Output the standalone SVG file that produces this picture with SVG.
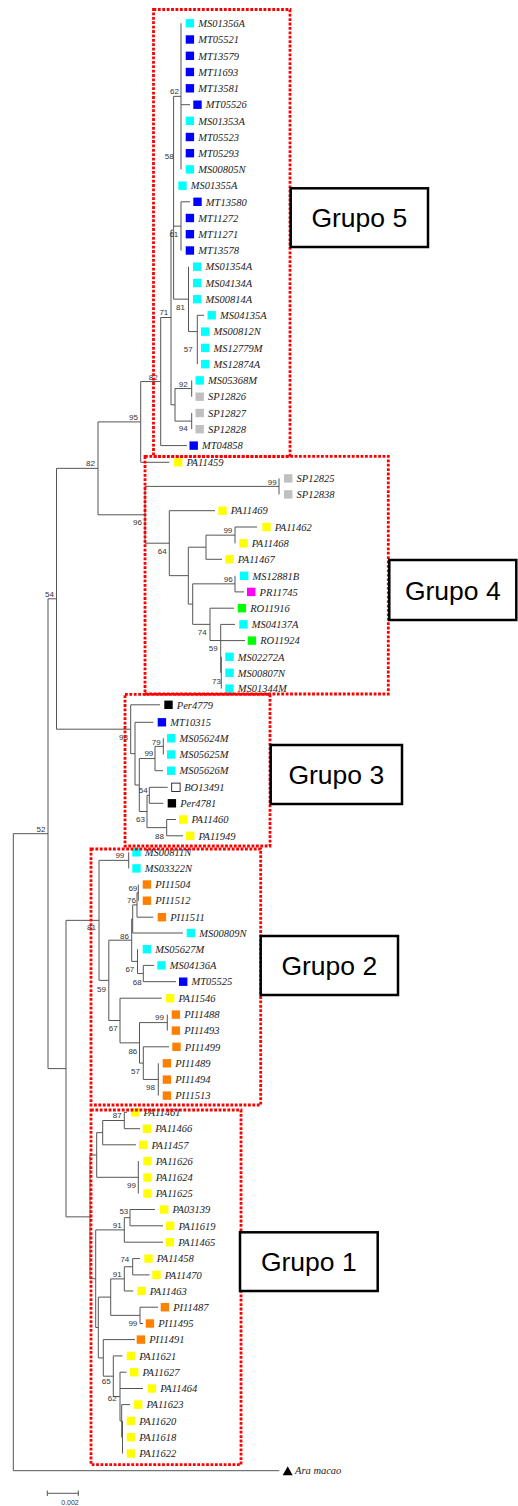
<svg xmlns="http://www.w3.org/2000/svg" width="518" height="1506" viewBox="0 0 518 1506">
<style>
.br{fill:none;stroke:#555;stroke-width:1}
.bs{font-family:"Liberation Sans",Arial,sans-serif;font-size:8px;fill:#333;text-anchor:end}
.lb{font-family:"Liberation Serif","Times New Roman",serif;font-style:italic;font-size:10.5px;fill:#222}
.rb{fill:none;stroke:#ff0000;stroke-width:2.8;stroke-dasharray:2.8 1.6}
.gb{fill:#fff;stroke:#000;stroke-width:2.5}
.gt{font-family:"Liberation Sans",Arial,sans-serif;font-size:26.5px;fill:#000;text-anchor:middle}
.cy{fill:#00ffff}.bl{fill:#0000ff}.ye{fill:#ffff00}.gr{fill:#c0c0c0}.mg{fill:#ff00ff}.gn{fill:#00ff00}.or{fill:#ff8000}.bk{fill:#000}.wh{fill:#fff;stroke:#000;stroke-width:0.8}
</style>
<rect width="518" height="1506" fill="#fff"/>
<g id="connectors" class="br">
<path d="M279.3 1470.7H13.3V833.7H48 M48 598.8V1068.6 M48 598.8H56.5 M48 1068.6H66 M56.5 468.35V729.2 M56.5 468.35H98 M56.5 729.2H130.7 M98 421.9V514.8 M98 421.9H140.7 M98 514.8H145 M140.7 381.55V462.3 M140.7 381.55H160.7 M140.7 462.3H169.3 M160.7 317.5V445.6 M160.7 317.5H171 M160.7 445.6H187 M171 230.2V404.8 M171 230.2H173.6 M171 404.8H175 M173.6 96.35V299.15 M173.6 299.15H188.5 M173.6 96.35H181 M173.6 226.15H181 M181 23.3V169.4 M181 104.7H190 M181 201.8V250.5 M181 201.8H190 M188.5 266.7V331.6 M188.5 331.6H197.3 M197.3 315.3V364.2 M197.3 315.3H204 M175 388.55V421.1 M175 388.55H191.7 M175 421.1H191.7 M191.7 380.4V396.7 M191.7 413V429.2"/>
<path d="M145 486.4V543.2 M145 486.4H279 M145 543.2H169.3 M279 478.4V494.4 M169.3 510.7V575.65 M169.3 510.7H215 M169.3 575.65H188.3 M188.3 547.2V604.1 M188.3 547.2H206 M188.3 604.1H192.7 M206 535.15V559.3 M206 535.15H235 M206 559.3H222 M235 527V543.3 M235 527H257 M192.7 583.85V624.35 M192.7 583.85H235 M192.7 624.35H210 M235 575.8V591.9 M235 591.9H244 M210 608.2V640.5 M210 608.2H234 M210 640.5H220.7 M220.7 624.4V672.7 M220.7 624.4H235 M220.7 640.6H245 M221.3 656.8V688.6"/>
<path d="M130.7 704.8V753.65 M130.7 704.8H160 M130.7 753.65H135 M135 722.3V785 M135 722.3H153.3 M135 785H139.3 M139.3 758.55V811.5 M139.3 758.55H155 M139.3 811.5H147 M155 746.4V770.7 M155 746.4H163.3 M155 770.7H163 M163.3 738.3V754.5 M147 795.3V827.65 M147 795.3H149.3 M147 827.65H166.7 M149.3 787.3V803.3 M149.3 787.3H167.7 M149.3 803.3H163.3 M166.7 819.5V835.8 M166.7 819.5H176 M166.7 835.8H183"/>
<path d="M66 920.35V1216.85 M66 920.35H99 M66 1216.85H90 M99 860.35V980.35 M99 860.35H128.7 M99 980.35H108.8 M128.7 852.3V868.4 M108.8 940.2V1020.5 M108.8 940.2H131.7 M108.8 1020.5H120 M131.7 918.95V961.4 M131.7 918.95H132.7 M131.7 961.4H137.5 M132.7 904.9V933 M132.7 904.9H137 M132.7 933H183 M137 892.6V917.2 M137 892.6H138.3 M137 917.2H153.3 M138.3 884.5V900.7 M137.5 949.2V973.55 M137.5 973.55H143.3 M143.3 965.4V981.7 M143.3 965.4H154 M143.3 981.7H176 M120 998.2V1042.85 M120 998.2H161.7 M120 1042.85H139.5 M139.5 1022.6V1063.1 M139.5 1022.6H167.3 M139.5 1063.1H143.3 M167.3 1014.6V1030.6 M143.3 1046.8V1079.45 M143.3 1046.8H169 M143.3 1079.45H158.3 M158.3 1063.3V1095.6"/>
<path d="M90 1155V1278.7 M90 1155H96.7 M90 1278.7H95.7 M96.7 1132.65V1177.3 M96.7 1132.65H102.7 M96.7 1177.3H138.3 M102.7 1120.5V1144.8 M102.7 1120.5H124.3 M102.7 1144.8H136 M124.3 1112.3V1128.7 M124.3 1112.3H127 M124.3 1128.7H140 M138.3 1161.1V1193.5 M95.7 1229.9V1327.5 M95.7 1229.9H124.3 M95.7 1327.5H98.3 M124.3 1217.65V1242.2 M124.3 1217.65H130 M124.3 1242.2H163 M130 1209.5V1225.8 M130 1209.5H155 M130 1225.8H163 M98.3 1297.1V1357.9 M98.3 1297.1H110.7 M98.3 1357.9H103.3 M110.7 1278.9V1315.35 M110.7 1278.9H124.3 M110.7 1315.35H140 M124.3 1266.75V1291 M124.3 1266.75H132.7 M124.3 1291H133.3 M132.7 1258.6V1274.9 M132.7 1258.6H140 M132.7 1274.9H149.5 M140 1307.2V1323.5 M140 1307.2H158 M140 1323.5H143 M103.3 1339.6V1376.2 M103.3 1339.6H135 M103.3 1376.2H113.3 M113.3 1355.9V1396.55 M113.3 1355.9H122.5 M113.3 1396.55H120 M120 1372.2V1420.9 M120 1372.2H126.5 M120 1388.5H143 M120 1420.9H121.7 M121.7 1404.6V1437.2 M121.7 1404.6H130 M121.7 1437.2H122.5 M122.5 1420.9V1453.5"/>
<path d="M47.3 1493.3H78.3 M47.3 1490.5V1496 M78.3 1490.5V1496"/>
</g>
<g id="bootstrap">
<text class="bs" x="179" y="93.9">62</text>
<text class="bs" x="173.7" y="158.9">58</text>
<text class="bs" x="178.3" y="236.9">61</text>
<text class="bs" x="185" y="309.6">81</text>
<text class="bs" x="192.7" y="351.9">57</text>
<text class="bs" x="168.3" y="315.2">71</text>
<text class="bs" x="157.7" y="379.9">82</text>
<text class="bs" x="187.7" y="387.2">92</text>
<text class="bs" x="187.7" y="431.2">94</text>
<text class="bs" x="138" y="419.6">95</text>
<text class="bs" x="95" y="465.9">82</text>
<text class="bs" x="276.7" y="484.6">99</text>
<text class="bs" x="142" y="524.9">96</text>
<text class="bs" x="166.7" y="553.6">64</text>
<text class="bs" x="232.3" y="532.9">99</text>
<text class="bs" x="232.7" y="581.6">96</text>
<text class="bs" x="206.7" y="635.2">74</text>
<text class="bs" x="217.7" y="650.6">59</text>
<text class="bs" x="221" y="683.9">73</text>
<text class="bs" x="54" y="596.9">54</text>
<text class="bs" x="45.5" y="831.9">52</text>
<text class="bs" x="128" y="740.2">98</text>
<text class="bs" x="160.7" y="744.6">79</text>
<text class="bs" x="153.3" y="756.2">99</text>
<text class="bs" x="147.7" y="792.9">54</text>
<text class="bs" x="145" y="822.2">63</text>
<text class="bs" x="164" y="838.6">88</text>
<text class="bs" x="124.3" y="857.9">99</text>
<text class="bs" x="137.3" y="890.6">69</text>
<text class="bs" x="136" y="902.9">76</text>
<text class="bs" x="96" y="930.2">81</text>
<text class="bs" x="129" y="938.6">86</text>
<text class="bs" x="134.3" y="971.9">67</text>
<text class="bs" x="141.7" y="984.6">68</text>
<text class="bs" x="106" y="991.9">59</text>
<text class="bs" x="117.7" y="1031.2">67</text>
<text class="bs" x="164" y="1020.2">99</text>
<text class="bs" x="137.3" y="1053.9">86</text>
<text class="bs" x="140" y="1073.9">57</text>
<text class="bs" x="155" y="1089.6">98</text>
<text class="bs" x="121.7" y="1117.6">87</text>
<text class="bs" x="136" y="1187.9">99</text>
<text class="bs" x="128.3" y="1213.9">53</text>
<text class="bs" x="121.7" y="1227.9">91</text>
<text class="bs" x="129.3" y="1262.2">74</text>
<text class="bs" x="121.7" y="1277.2">91</text>
<text class="bs" x="137.3" y="1325.6">99</text>
<text class="bs" x="110.7" y="1383.9">65</text>
<text class="bs" x="116.7" y="1401.2">62</text>
<text class="bs" x="70" y="1504.5" style="text-anchor:middle;font-size:7px">0.002</text>
</g>
<g id="leaves">
<g id="n-MS01356A"><rect class="cy" x="185.7" y="19.1" width="8.4" height="8.4"/><text class="lb" x="198.2" y="27">MS01356A</text></g>
<g id="n-MT05521"><rect class="bl" x="185.7" y="35.3" width="8.4" height="8.4"/><text class="lb" x="198.2" y="43.2">MT05521</text></g>
<g id="n-MT13579"><rect class="bl" x="185.7" y="51.6" width="8.4" height="8.4"/><text class="lb" x="198.2" y="59.5">MT13579</text></g>
<g id="n-MT11693"><rect class="bl" x="185.7" y="67.8" width="8.4" height="8.4"/><text class="lb" x="198.2" y="75.7">MT11693</text></g>
<g id="n-MT13581"><rect class="bl" x="185.7" y="84.1" width="8.4" height="8.4"/><text class="lb" x="198.2" y="92">MT13581</text></g>
<g id="n-MT05526"><rect class="bl" x="193.3" y="100.5" width="8.4" height="8.4"/><text class="lb" x="205.8" y="108.4">MT05526</text></g>
<g id="n-MS01353A"><rect class="cy" x="185.7" y="116.6" width="8.4" height="8.4"/><text class="lb" x="198.2" y="124.5">MS01353A</text></g>
<g id="n-MT05523"><rect class="bl" x="185.7" y="132.8" width="8.4" height="8.4"/><text class="lb" x="198.2" y="140.7">MT05523</text></g>
<g id="n-MT05293"><rect class="bl" x="185.7" y="149" width="8.4" height="8.4"/><text class="lb" x="198.2" y="156.9">MT05293</text></g>
<g id="n-MS00805N"><rect class="cy" x="185.7" y="165.2" width="8.4" height="8.4"/><text class="lb" x="198.2" y="173.1">MS00805N</text></g>
<g id="n-MS01355A"><rect class="cy" x="178.3" y="181.5" width="8.4" height="8.4"/><text class="lb" x="190.8" y="189.4">MS01355A</text></g>
<g id="n-MT13580"><rect class="bl" x="193.3" y="197.6" width="8.4" height="8.4"/><text class="lb" x="205.8" y="205.5">MT13580</text></g>
<g id="n-MT11272"><rect class="bl" x="185.7" y="213.8" width="8.4" height="8.4"/><text class="lb" x="198.2" y="221.7">MT11272</text></g>
<g id="n-MT11271"><rect class="bl" x="185.7" y="230" width="8.4" height="8.4"/><text class="lb" x="198.2" y="237.9">MT11271</text></g>
<g id="n-MT13578"><rect class="bl" x="185.7" y="246.3" width="8.4" height="8.4"/><text class="lb" x="198.2" y="254.2">MT13578</text></g>
<g id="n-MS01354A"><rect class="cy" x="193" y="262.5" width="8.4" height="8.4"/><text class="lb" x="205.5" y="270.4">MS01354A</text></g>
<g id="n-MS04134A"><rect class="cy" x="193" y="278.8" width="8.4" height="8.4"/><text class="lb" x="205.5" y="286.7">MS04134A</text></g>
<g id="n-MS00814A"><rect class="cy" x="193" y="295" width="8.4" height="8.4"/><text class="lb" x="205.5" y="302.9">MS00814A</text></g>
<g id="n-MS04135A"><rect class="cy" x="207.5" y="311.1" width="8.4" height="8.4"/><text class="lb" x="220" y="319">MS04135A</text></g>
<g id="n-MS00812N"><rect class="cy" x="201" y="327.4" width="8.4" height="8.4"/><text class="lb" x="213.5" y="335.3">MS00812N</text></g>
<g id="n-MS12779M"><rect class="cy" x="201" y="343.7" width="8.4" height="8.4"/><text class="lb" x="213.5" y="351.6">MS12779M</text></g>
<g id="n-MS12874A"><rect class="cy" x="201" y="360" width="8.4" height="8.4"/><text class="lb" x="213.5" y="367.9">MS12874A</text></g>
<g id="n-MS05368M"><rect class="cy" x="195.5" y="376.2" width="8.4" height="8.4"/><text class="lb" x="208" y="384.1">MS05368M</text></g>
<g id="n-SP12826"><rect class="gr" x="195.5" y="392.5" width="8.4" height="8.4"/><text class="lb" x="208" y="400.4">SP12826</text></g>
<g id="n-SP12827"><rect class="gr" x="195.5" y="408.8" width="8.4" height="8.4"/><text class="lb" x="208" y="416.7">SP12827</text></g>
<g id="n-SP12828"><rect class="gr" x="195.5" y="425" width="8.4" height="8.4"/><text class="lb" x="208" y="432.9">SP12828</text></g>
<g id="n-MT04858"><rect class="bl" x="189.5" y="441.4" width="8.4" height="8.4"/><text class="lb" x="202" y="449.3">MT04858</text></g>
<g id="n-PA11459"><rect class="ye" x="174" y="458.1" width="8.4" height="8.4"/><text class="lb" x="186.5" y="466">PA11459</text></g>
<g id="n-SP12825"><rect class="gr" x="284" y="474.2" width="8.4" height="8.4"/><text class="lb" x="296.5" y="482.1">SP12825</text></g>
<g id="n-SP12838"><rect class="gr" x="284" y="490.2" width="8.4" height="8.4"/><text class="lb" x="296.5" y="498.1">SP12838</text></g>
<g id="n-PA11469"><rect class="ye" x="218.3" y="506.5" width="8.4" height="8.4"/><text class="lb" x="230.8" y="514.4">PA11469</text></g>
<g id="n-PA11462"><rect class="ye" x="262.3" y="522.8" width="8.4" height="8.4"/><text class="lb" x="274.8" y="530.7">PA11462</text></g>
<g id="n-PA11468"><rect class="ye" x="239.3" y="539.1" width="8.4" height="8.4"/><text class="lb" x="251.8" y="547">PA11468</text></g>
<g id="n-PA11467"><rect class="ye" x="225.3" y="555.1" width="8.4" height="8.4"/><text class="lb" x="237.8" y="563">PA11467</text></g>
<g id="n-MS12881B"><rect class="cy" x="240" y="571.6" width="8.4" height="8.4"/><text class="lb" x="252.5" y="579.5">MS12881B</text></g>
<g id="n-PR11745"><rect class="mg" x="247" y="587.7" width="8.4" height="8.4"/><text class="lb" x="259.5" y="595.6">PR11745</text></g>
<g id="n-RO11916"><rect class="gn" x="237.7" y="604" width="8.4" height="8.4"/><text class="lb" x="250.2" y="611.9">RO11916</text></g>
<g id="n-MS04137A"><rect class="cy" x="239.3" y="620.2" width="8.4" height="8.4"/><text class="lb" x="251.8" y="628.1">MS04137A</text></g>
<g id="n-RO11924"><rect class="gn" x="247.7" y="636.4" width="8.4" height="8.4"/><text class="lb" x="260.2" y="644.3">RO11924</text></g>
<g id="n-MS02272A"><rect class="cy" x="225.3" y="652.6" width="8.4" height="8.4"/><text class="lb" x="237.8" y="660.5">MS02272A</text></g>
<g id="n-MS00807N"><rect class="cy" x="225.3" y="668.6" width="8.4" height="8.4"/><text class="lb" x="237.8" y="676.5">MS00807N</text></g>
<g id="n-MS01344M"><rect class="cy" x="225.3" y="684.4" width="8.4" height="8.4"/><text class="lb" x="237.8" y="692.3">MS01344M</text></g>
<g id="n-Per4779"><rect class="bk" x="164.3" y="700.6" width="8.4" height="8.4"/><text class="lb" x="176.8" y="708.5">Per4779</text></g>
<g id="n-MT10315"><rect class="bl" x="157.7" y="718.1" width="8.4" height="8.4"/><text class="lb" x="170.2" y="726">MT10315</text></g>
<g id="n-MS05624M"><rect class="cy" x="167" y="734.1" width="8.4" height="8.4"/><text class="lb" x="179.5" y="742">MS05624M</text></g>
<g id="n-MS05625M"><rect class="cy" x="167" y="750.3" width="8.4" height="8.4"/><text class="lb" x="179.5" y="758.2">MS05625M</text></g>
<g id="n-MS05626M"><rect class="cy" x="167" y="766.5" width="8.4" height="8.4"/><text class="lb" x="179.5" y="774.4">MS05626M</text></g>
<g id="n-BO13491"><rect class="wh" x="171.7" y="783.1" width="8.4" height="8.4"/><text class="lb" x="184.2" y="791">BO13491</text></g>
<g id="n-Per4781"><rect class="bk" x="167.7" y="799.1" width="8.4" height="8.4"/><text class="lb" x="180.2" y="807">Per4781</text></g>
<g id="n-PA11460"><rect class="ye" x="179" y="815.3" width="8.4" height="8.4"/><text class="lb" x="191.5" y="823.2">PA11460</text></g>
<g id="n-PA11949"><rect class="ye" x="186" y="831.6" width="8.4" height="8.4"/><text class="lb" x="198.5" y="839.5">PA11949</text></g>
<g id="n-MS00811N"><rect class="cy" x="132.3" y="848.1" width="8.4" height="8.4"/><text class="lb" x="144.8" y="856">MS00811N</text></g>
<g id="n-MS03322N"><rect class="cy" x="132.3" y="864.2" width="8.4" height="8.4"/><text class="lb" x="144.8" y="872.1">MS03322N</text></g>
<g id="n-PI11504"><rect class="or" x="142.7" y="880.3" width="8.4" height="8.4"/><text class="lb" x="155.2" y="888.2">PI11504</text></g>
<g id="n-PI11512"><rect class="or" x="142.7" y="896.5" width="8.4" height="8.4"/><text class="lb" x="155.2" y="904.4">PI11512</text></g>
<g id="n-PI11511"><rect class="or" x="157.7" y="913" width="8.4" height="8.4"/><text class="lb" x="170.2" y="920.9">PI11511</text></g>
<g id="n-MS00809N"><rect class="cy" x="186.7" y="928.8" width="8.4" height="8.4"/><text class="lb" x="199.2" y="936.7">MS00809N</text></g>
<g id="n-MS05627M"><rect class="cy" x="142.7" y="945" width="8.4" height="8.4"/><text class="lb" x="155.2" y="952.9">MS05627M</text></g>
<g id="n-MS04136A"><rect class="cy" x="157.3" y="961.2" width="8.4" height="8.4"/><text class="lb" x="169.8" y="969.1">MS04136A</text></g>
<g id="n-MT05525"><rect class="bl" x="179" y="977.5" width="8.4" height="8.4"/><text class="lb" x="191.5" y="985.4">MT05525</text></g>
<g id="n-PA11546"><rect class="ye" x="166" y="994" width="8.4" height="8.4"/><text class="lb" x="178.5" y="1001.9">PA11546</text></g>
<g id="n-PI11488"><rect class="or" x="171.7" y="1010.4" width="8.4" height="8.4"/><text class="lb" x="184.2" y="1018.3">PI11488</text></g>
<g id="n-PI11493"><rect class="or" x="171.7" y="1026.4" width="8.4" height="8.4"/><text class="lb" x="184.2" y="1034.3">PI11493</text></g>
<g id="n-PI11499"><rect class="or" x="172.3" y="1042.6" width="8.4" height="8.4"/><text class="lb" x="184.8" y="1050.5">PI11499</text></g>
<g id="n-PI11489"><rect class="or" x="162.7" y="1059.1" width="8.4" height="8.4"/><text class="lb" x="175.2" y="1067">PI11489</text></g>
<g id="n-PI11494"><rect class="or" x="162.7" y="1075.4" width="8.4" height="8.4"/><text class="lb" x="175.2" y="1083.3">PI11494</text></g>
<g id="n-PI11513"><rect class="or" x="162.7" y="1091.4" width="8.4" height="8.4"/><text class="lb" x="175.2" y="1099.3">PI11513</text></g>
<g id="n-PA11461"><rect class="ye" x="131" y="1108.1" width="8.4" height="8.4"/><text class="lb" x="143.5" y="1116">PA11461</text></g>
<g id="n-PA11466"><rect class="ye" x="142.7" y="1124.5" width="8.4" height="8.4"/><text class="lb" x="155.2" y="1132.4">PA11466</text></g>
<g id="n-PA11457"><rect class="ye" x="139" y="1140.6" width="8.4" height="8.4"/><text class="lb" x="151.5" y="1148.5">PA11457</text></g>
<g id="n-PA11626"><rect class="ye" x="143.3" y="1156.9" width="8.4" height="8.4"/><text class="lb" x="155.8" y="1164.8">PA11626</text></g>
<g id="n-PA11624"><rect class="ye" x="143.3" y="1173.3" width="8.4" height="8.4"/><text class="lb" x="155.8" y="1181.2">PA11624</text></g>
<g id="n-PA11625"><rect class="ye" x="143.3" y="1189.3" width="8.4" height="8.4"/><text class="lb" x="155.8" y="1197.2">PA11625</text></g>
<g id="n-PA03139"><rect class="ye" x="160" y="1205.3" width="8.4" height="8.4"/><text class="lb" x="172.5" y="1213.2">PA03139</text></g>
<g id="n-PA11619"><rect class="ye" x="166" y="1221.6" width="8.4" height="8.4"/><text class="lb" x="178.5" y="1229.5">PA11619</text></g>
<g id="n-PA11465"><rect class="ye" x="165.7" y="1238" width="8.4" height="8.4"/><text class="lb" x="178.2" y="1245.9">PA11465</text></g>
<g id="n-PA11458"><rect class="ye" x="144.3" y="1254.4" width="8.4" height="8.4"/><text class="lb" x="156.8" y="1262.3">PA11458</text></g>
<g id="n-PA11470"><rect class="ye" x="152.3" y="1270.7" width="8.4" height="8.4"/><text class="lb" x="164.8" y="1278.6">PA11470</text></g>
<g id="n-PA11463"><rect class="ye" x="137.3" y="1286.8" width="8.4" height="8.4"/><text class="lb" x="149.8" y="1294.7">PA11463</text></g>
<g id="n-PI11487"><rect class="or" x="160.7" y="1303" width="8.4" height="8.4"/><text class="lb" x="173.2" y="1310.9">PI11487</text></g>
<g id="n-PI11495"><rect class="or" x="145.7" y="1319.3" width="8.4" height="8.4"/><text class="lb" x="158.2" y="1327.2">PI11495</text></g>
<g id="n-PI11491"><rect class="or" x="136.7" y="1335.4" width="8.4" height="8.4"/><text class="lb" x="149.2" y="1343.3">PI11491</text></g>
<g id="n-PA11621"><rect class="ye" x="126.7" y="1351.7" width="8.4" height="8.4"/><text class="lb" x="139.2" y="1359.6">PA11621</text></g>
<g id="n-PA11627"><rect class="ye" x="130" y="1368" width="8.4" height="8.4"/><text class="lb" x="142.5" y="1375.9">PA11627</text></g>
<g id="n-PA11464"><rect class="ye" x="147.7" y="1384.3" width="8.4" height="8.4"/><text class="lb" x="160.2" y="1392.2">PA11464</text></g>
<g id="n-PA11623"><rect class="ye" x="134" y="1400.4" width="8.4" height="8.4"/><text class="lb" x="146.5" y="1408.3">PA11623</text></g>
<g id="n-PA11620"><rect class="ye" x="126.7" y="1416.7" width="8.4" height="8.4"/><text class="lb" x="139.2" y="1424.6">PA11620</text></g>
<g id="n-PA11618"><rect class="ye" x="126.7" y="1433" width="8.4" height="8.4"/><text class="lb" x="139.2" y="1440.9">PA11618</text></g>
<g id="n-PA11622"><rect class="ye" x="126.7" y="1449.3" width="8.4" height="8.4"/><text class="lb" x="139.2" y="1457.2">PA11622</text></g>
<g id="n-Ara-macao"><polygon points="282.7,1475.2 292.7,1475.2 287.7,1466.3" fill="#000"/><text class="lb" x="295" y="1474.4">Ara macao</text></g>
</g>
<g id="clades">
<rect class="rb" x="153.5" y="9.5" width="136.5" height="447.2"/>
<rect class="rb" x="145" y="456.3" width="243.3" height="237.7"/>
<rect class="rb" x="125" y="694.3" width="145" height="151.7"/>
<rect class="rb" x="91" y="849" width="169.7" height="256"/>
<rect class="rb" x="91" y="1110" width="150" height="354.7"/>
</g>
<g id="grupo5"><rect class="gb" x="290.7" y="188.3" width="137.3" height="58.7"/><text class="gt" x="359.3" y="227">Grupo 5</text></g>
<g id="grupo4"><rect class="gb" x="389.3" y="560" width="127" height="60"/><text class="gt" x="452.8" y="599.5">Grupo 4</text></g>
<g id="grupo3"><rect class="gb" x="270.7" y="745" width="131.3" height="59"/><text class="gt" x="336.3" y="784">Grupo 3</text></g>
<g id="grupo2"><rect class="gb" x="260.7" y="936" width="137.3" height="59"/><text class="gt" x="329.3" y="975">Grupo 2</text></g>
<g id="grupo1"><rect class="gb" x="240" y="1232.3" width="137.7" height="58.7"/><text class="gt" x="308.8" y="1271">Grupo 1</text></g>
</svg>
